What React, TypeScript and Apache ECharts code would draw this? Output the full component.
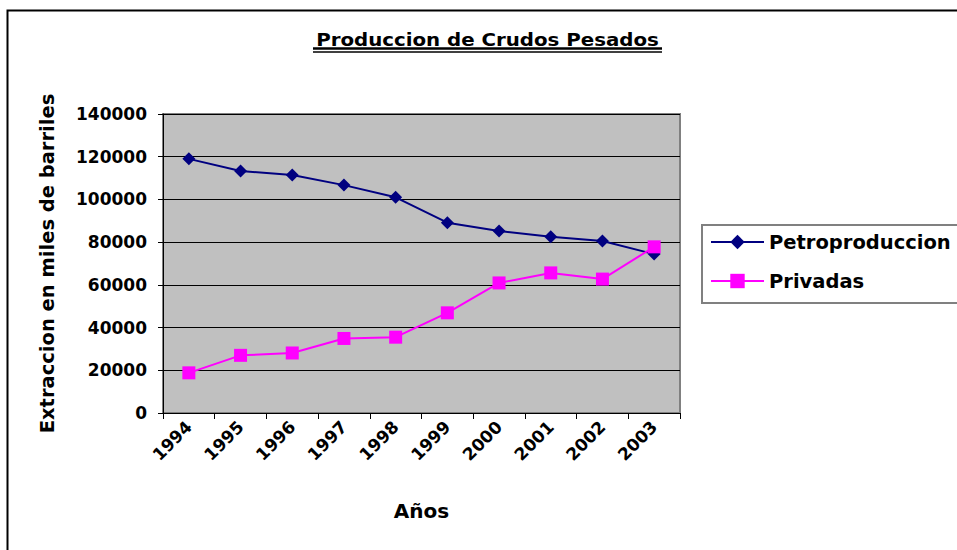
import React, { useEffect, useRef } from "react";
import * as echarts from "echarts";

const years = ["1994", "1995", "1996", "1997", "1998", "1999", "2000", "2001", "2002", "2003"];
const petroproduccion = [119000, 113300, 111400, 106700, 101000, 89100, 85200, 82500, 80500, 74400];
const privadas = [18800, 27000, 28100, 34900, 35500, 46900, 60900, 65600, 62700, 77800];
const yMin = 0;
const yMax = 140000;
const yStep = 20000;

const FONT = "'DejaVu Sans', sans-serif";

export default function App() {
  const ref = useRef<HTMLDivElement>(null);
  useEffect(() => {
    document.body.style.margin = "0";
    if (!ref.current) return;
    const chart = echarts.init(ref.current, null, { renderer: "svg" });
    chart.setOption({
      animation: false,
      backgroundColor: "#ffffff",
      textStyle: { fontFamily: FONT },
      grid: {
        left: 163,
        top: 114,
        width: 517,
        height: 299,
        show: true,
        backgroundColor: "#C0C0C0",
        borderColor: "#808080",
        borderWidth: 2,
        containLabel: false,
      },
      graphic: [
        {
          type: "rect",
          shape: { x: 7.5, y: 10.5, width: 1000, height: 600 },
          style: { fill: "none", stroke: "#000", lineWidth: 2 },
          silent: true,
        },
        {
          type: "text",
          x: 487.5,
          y: 39.5,
          scaleX: 1.1,
          style: {
            text: "Produccion de Crudos Pesados",
            fontFamily: FONT,
            fontWeight: "bold",
            fontSize: 18,
            fill: "#000",
            align: "center",
            verticalAlign: "middle",
          },
        },
        {
          type: "line",
          shape: { x1: 313, y1: 48.6, x2: 662, y2: 48.6 },
          style: { stroke: "#000", lineWidth: 2.5 },
        },
        {
          type: "line",
          shape: { x1: 313, y1: 52, x2: 662, y2: 52 },
          style: { stroke: "#000", lineWidth: 1.3 },
        },
        {
          type: "rect",
          shape: { x: 702, y: 225, width: 300, height: 78 },
          style: { fill: "#fff", stroke: "#808080", lineWidth: 2 },
          z: 0,
        },
      ],
      legend: {
        orient: "vertical",
        left: 710,
        top: 232,
        padding: 0,
        itemGap: 19,
        itemWidth: 53,
        itemHeight: 18,
        z: 10,
        textStyle: { fontFamily: FONT, fontWeight: "bold", fontSize: 19.5, color: "#000" },
        data: ["Petroproduccion", "Privadas"],
      },
      xAxis: {
        type: "category",
        data: years,
        boundaryGap: true,
        name: "Años",
        nameLocation: "middle",
        nameGap: 88,
        nameTextStyle: { fontFamily: FONT, fontWeight: "bold", fontSize: 20, color: "#000" },
        axisLine: { show: true, lineStyle: { color: "#000", width: 1 } },
        axisTick: { show: true, alignWithLabel: false, interval: 0, length: 6, lineStyle: { color: "#000" } },
        axisLabel: {
          interval: 0,
          rotate: 45,
          margin: 11,
          fontFamily: FONT,
          fontWeight: "bold",
          fontSize: 17,
          color: "#000",
        },
        splitLine: { show: false },
      },
      yAxis: {
        type: "value",
        min: yMin,
        max: yMax,
        interval: yStep,
        name: "Extraccion en miles de barriles",
        nameLocation: "middle",
        nameGap: 106,
        nameRotate: 90,
        nameTextStyle: { fontFamily: FONT, fontWeight: "bold", fontSize: 19.5, color: "#000" },
        axisLine: { show: true, lineStyle: { color: "#000", width: 1 } },
        axisTick: { show: true, length: 5, lineStyle: { color: "#000" } },
        axisLabel: {
          margin: 16,
          fontFamily: FONT,
          fontWeight: "bold",
          fontSize: 17,
          color: "#000",
          formatter: (v: number) => String(v),
        },
        splitLine: { show: true, lineStyle: { color: "#000", width: 1 } },
      },
      series: [
        {
          name: "Petroproduccion",
          type: "line",
          data: petroproduccion,
          symbol: "diamond",
          symbolSize: 13,
          lineStyle: { color: "#000080", width: 2 },
          itemStyle: { color: "#000080" },
        },
        {
          name: "Privadas",
          type: "line",
          data: privadas,
          symbol: "rect",
          symbolSize: 13,
          lineStyle: { color: "#FF00FF", width: 2 },
          itemStyle: { color: "#FF00FF" },
        },
      ],
    });
    return () => chart.dispose();
  }, []);
  return <div ref={ref} style={{ width: 957, height: 550 }} />;
}
